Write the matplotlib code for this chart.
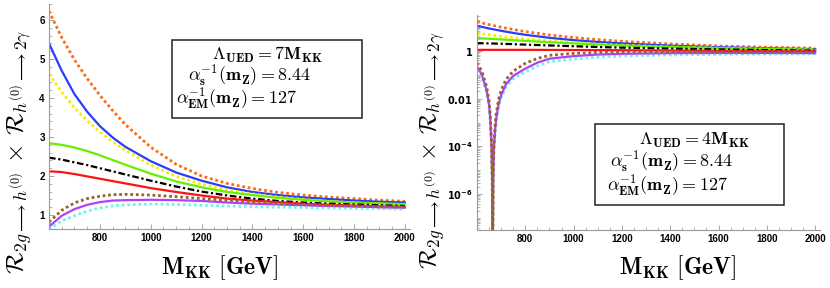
import matplotlib
matplotlib.use("Agg")
import matplotlib.pyplot as plt
from matplotlib.patches import Rectangle
from matplotlib.ticker import FixedLocator, NullFormatter
import numpy as np

plt.rcParams['mathtext.fontset'] = 'cm'

# ---------------- data: left panel (Lambda_UED = 7 M_KK) ----------------
mkk_left = [600, 650, 700, 750, 800, 850, 900, 1000, 1100, 1200, 1300, 1400, 1500, 1600, 1700, 1800, 1900, 2000]
left_orange = [6.23, 5.55, 4.98, 4.50, 4.07, 3.68, 3.32, 2.74, 2.30, 2.00, 1.81, 1.68, 1.58, 1.51, 1.46, 1.42, 1.38, 1.35]
left_blue   = [5.40, 4.70, 4.10, 3.65, 3.28, 2.99, 2.75, 2.38, 2.09, 1.88, 1.71, 1.59, 1.51, 1.45, 1.41, 1.37, 1.34, 1.32]
left_yellow = [4.62, 4.15, 3.75, 3.42, 3.13, 2.88, 2.66, 2.28, 1.99, 1.79, 1.64, 1.54, 1.46, 1.40, 1.35, 1.31, 1.28, 1.26]
left_green  = [2.84, 2.80, 2.73, 2.64, 2.53, 2.41, 2.29, 2.06, 1.86, 1.71, 1.59, 1.51, 1.44, 1.39, 1.35, 1.32, 1.30, 1.28]
left_black  = [2.47, 2.42, 2.35, 2.28, 2.20, 2.12, 2.04, 1.88, 1.73, 1.60, 1.50, 1.42, 1.36, 1.32, 1.29, 1.27, 1.25, 1.23]
left_red    = [2.12, 2.10, 2.05, 1.99, 1.93, 1.87, 1.81, 1.69, 1.59, 1.50, 1.42, 1.37, 1.33, 1.29, 1.26, 1.24, 1.22, 1.21]
left_brown  = [0.82, 1.12, 1.31, 1.42, 1.48, 1.52, 1.53, 1.51, 1.47, 1.42, 1.38, 1.34, 1.30, 1.27, 1.25, 1.23, 1.21, 1.20]
left_purple = [0.70, 0.98, 1.15, 1.26, 1.33, 1.37, 1.38, 1.39, 1.38, 1.36, 1.32, 1.29, 1.27, 1.25, 1.23, 1.22, 1.20, 1.19]
left_cyan   = [0.63, 0.85, 0.98, 1.10, 1.18, 1.23, 1.26, 1.28, 1.27, 1.25, 1.23, 1.21, 1.20, 1.19, 1.18, 1.17, 1.16, 1.15]

# ---------------- data: right panel (Lambda_UED = 4 M_KK) ----------------
mkk_right_up = [600, 650, 700, 750, 800, 900, 1000, 1100, 1200, 1400, 1600, 1800, 2000]
right_orange = [16.6, 12.5, 9.8, 7.8, 6.4, 4.6, 3.6, 2.95, 2.5, 1.95, 1.6, 1.42, 1.29]
right_blue   = [11.2, 8.6, 6.9, 5.6, 4.7, 3.5, 2.8, 2.35, 2.05, 1.65, 1.42, 1.28, 1.18]
right_yellow = [5.5, 4.7, 4.05, 3.55, 3.15, 2.6, 2.2, 1.92, 1.72, 1.45, 1.30, 1.19, 1.12]
right_green  = [3.4, 3.2, 3.0, 2.8, 2.6, 2.3, 2.05, 1.85, 1.68, 1.45, 1.30, 1.19, 1.10]
right_black  = [2.1, 2.05, 1.98, 1.90, 1.82, 1.68, 1.56, 1.45, 1.36, 1.24, 1.15, 1.07, 1.02]
right_red    = [1.1, 1.1, 1.1, 1.1, 1.1, 1.09, 1.08, 1.07, 1.06, 1.03, 1.0, 0.97, 0.95]

mkk_right_lo = [600, 620, 640, 650, 655, 660, 663, 665, 667, 670, 675, 680, 690, 700, 720, 750,
                800, 850, 900, 1000, 1100, 1200, 1400, 1600, 1800, 2000]
right_brown  = [0.316, 0.141, 0.0316, 0.0079, 0.002, 1.6e-4, 5e-6, 1e-9, 5e-6, 1.26e-4, 7.9e-4, 2.5e-3,
                0.01, 0.0224, 0.063, 0.141, 0.30, 0.48, 0.65, 0.78, 0.86, 0.90, 0.93, 0.93, 0.92, 0.90]
right_purple = [0.22, 0.10, 0.022, 0.0055, 1.4e-3, 1.1e-4, 3.5e-6, 1e-9, 3.5e-6, 8e-5, 5e-4, 1.6e-3,
                6.3e-3, 0.014, 0.04, 0.09, 0.18, 0.32, 0.47, 0.60, 0.70, 0.75, 0.80, 0.81, 0.81, 0.80]
right_cyan   = [0.17, 0.075, 0.016, 0.004, 1e-3, 8e-5, 2.5e-6, 1e-9, 2.5e-6, 6e-5, 3.5e-4, 1.1e-3,
                4.5e-3, 0.0105, 0.03, 0.068, 0.13, 0.23, 0.35, 0.45, 0.54, 0.60, 0.67, 0.71, 0.73, 0.74]

x_ticks = [800, 1000, 1200, 1400, 1600, 1800, 2000]
left_yticks = [1, 2, 3, 4, 5, 6]
right_yticks = [1, 1e-2, 1e-4, 1e-6]
right_yticklabels = [r'$\mathbf{1}$', r'$\mathbf{0.01}$', r'$\mathbf{10^{-4}}$', r'$\mathbf{10^{-6}}$']

# ---------------- styles ----------------
C_OR = '#ff6a13'
C_BL = '#2a3cff'
C_YE = '#f0f000'
C_GR = '#66f000'
C_BK = '#000000'
C_RE = '#ff1010'
C_BR = '#9a6128'
C_PU = '#b040ff'
C_CY = '#70f5e6'
DOT = (0, (1.0, 1.0))
DASHDOT = (0, (3.0, 1.2, 1.0, 1.2))

W, H = 830, 288
fig = plt.figure(figsize=(W / 100, H / 100), dpi=100)


def px_axes(x0, x1, ytop, ybot):
    return fig.add_axes([x0 / W, 1 - ybot / H, (x1 - x0) / W, (ybot - ytop) / H])


def style_axes(ax):
    for s in ['top', 'right']:
        ax.spines[s].set_visible(False)
    for s in ['left', 'bottom']:
        ax.spines[s].set_color('#9a9a9a')
        ax.spines[s].set_linewidth(0.8)
    ax.tick_params(which='both', direction='in', color='#9a9a9a', labelsize=7, pad=3)
    ax.tick_params(which='major', length=3.5, width=0.6)
    ax.tick_params(which='minor', length=2, width=0.5)
    ax.patch.set_alpha(0)


def draw_set(ax, xs_up, ups, xs_lo, los):
    o, b, y, g, k, r = ups
    br, pu, cy = los
    lw = 1.6
    dl = 2.0
    ax.plot(xs_up, o, color=C_OR, lw=dl, ls=DOT, dash_capstyle='butt')
    ax.plot(xs_up, b, color=C_BL, lw=lw)
    ax.plot(xs_up, y, color=C_YE, lw=dl, ls=DOT, dash_capstyle='butt')
    ax.plot(xs_up, g, color=C_GR, lw=lw)
    ax.plot(xs_up, k, color=C_BK, lw=lw, ls=DASHDOT, dash_capstyle='butt')
    ax.plot(xs_up, r, color=C_RE, lw=lw)
    ax.plot(xs_lo, cy, color=C_CY, lw=dl, ls=DOT, dash_capstyle='butt')
    ax.plot(xs_lo, pu, color=C_PU, lw=lw)
    ax.plot(xs_lo, br, color=C_BR, lw=dl, ls=DOT, dash_capstyle='butt')


TICKFONT = dict(fontweight='bold', family='Liberation Sans', fontsize=7)

# ---------------- left panel ----------------
ax1 = px_axes(49, 410, 4.4, 229.3)
style_axes(ax1)
draw_set(ax1, mkk_left, [left_orange, left_blue, left_yellow, left_green, left_black, left_red],
         mkk_left, [left_brown, left_purple, left_cyan])
ax1.set_xlim(600, 2020)
ax1.set_ylim(0.633, 6.4)
ax1.xaxis.set_major_locator(FixedLocator(x_ticks))
ax1.xaxis.set_minor_locator(FixedLocator(np.arange(650, 2001, 50)))
ax1.yaxis.set_major_locator(FixedLocator(left_yticks))
ax1.yaxis.set_minor_locator(FixedLocator(np.arange(0.8, 6.41, 0.2)))
ax1.set_xticklabels([str(t) for t in x_ticks], **TICKFONT)
ax1.set_yticklabels([str(t) for t in left_yticks], **TICKFONT)

# ---------------- right panel ----------------
ax2 = px_axes(477, 820, 15, 230)
style_axes(ax2)
ax2.set_yscale('log')
draw_set(ax2, mkk_right_up, [right_orange, right_blue, right_yellow, right_green, right_black, right_red],
         mkk_right_lo, [right_brown, right_purple, right_cyan])
ax2.set_xlim(600, 2020)
ax2.set_ylim(10 ** -7.5, 10 ** 1.5)
ax2.xaxis.set_major_locator(FixedLocator(x_ticks))
ax2.xaxis.set_minor_locator(FixedLocator(np.arange(650, 2001, 50)))
ax2.yaxis.set_major_locator(FixedLocator(right_yticks))
minors = [m * 10.0 ** e for e in range(-8, 2) for m in range(1, 10)
          if 10 ** -7.5 <= m * 10.0 ** e <= 10 ** 1.5 and not (m == 1 and e % 2 == 0)]
ax2.yaxis.set_minor_locator(FixedLocator(minors))
ax2.yaxis.set_minor_formatter(NullFormatter())
ax2.set_xticklabels([str(t) for t in x_ticks], **TICKFONT)
ax2.set_yticklabels(right_yticklabels, fontsize=7, math_fontfamily='dejavusans')

# ---------------- axis labels ----------------
ylab = (r'$\mathcal{R}_{2g\longrightarrow h^{(0)}}\,\times\,'
        r'\mathcal{R}_{h^{(0)}\longrightarrow 2\gamma}$')
fig.text(20 / W, 1 - 152 / H, ylab, rotation=90, ha='center', va='center', fontsize=18)
fig.text(432 / W, 1 - 150 / H, ylab, rotation=90, ha='center', va='center', fontsize=17.5)
xlab = r'$\mathbf{M_{KK}}\ \mathbf{[GeV]}$'
fig.text(220 / W, 1 - 268 / H, xlab, ha='center', va='center', fontsize=17)
fig.text(678 / W, 1 - 268 / H, xlab, ha='center', va='center', fontsize=17)


# ---------------- text boxes ----------------
def box(x0, y0, x1, y1):
    fig.add_artist(Rectangle((x0 / W, 1 - y1 / H), (x1 - x0) / W, (y1 - y0) / H,
                             transform=fig.transFigure, fill=True, facecolor='white',
                             edgecolor='#222222', lw=1.1, zorder=5))


def tline(x, y, s):
    fig.text(x / W, 1 - y / H, s, ha='left', va='center', fontsize=13, zorder=6)


L1 = r'$\mathbf{\Lambda_{UED}} = \mathbf{%dM_{KK}}$'
L2 = r'$\alpha_{\mathbf{s}}^{\mathbf{-1}}\mathbf{(m_Z)} = \mathbf{8.44}$'
L3 = r'$\alpha_{\mathbf{EM}}^{\mathbf{-1}}\mathbf{(m_Z)} = \mathbf{127}$'

box(172, 40, 362, 118)
tline(212, 55, L1 % 7)
tline(188, 76, L2)
tline(176, 99, L3)

box(595, 124, 784, 205)
tline(639, 140, L1 % 4)
tline(610, 162, L2)
tline(607, 186, L3)

fig.savefig('out.png', dpi=100)
